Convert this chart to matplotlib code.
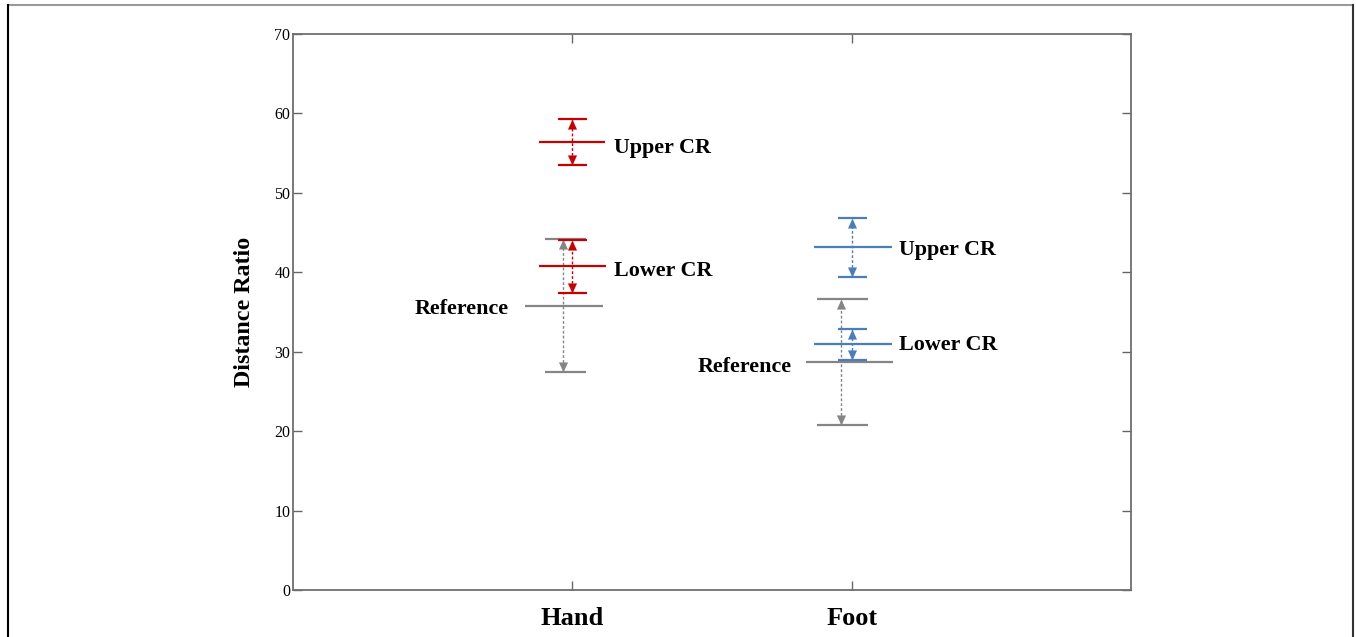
import matplotlib
matplotlib.use("Agg")
import matplotlib.pyplot as plt
from matplotlib.path import Path
from matplotlib.lines import Line2D

# ---------------- data ----------------
groups = ["Hand", "Foot"]
series = ["Reference", "Lower CR", "Upper CR"]
# centre value, lower bound, upper bound per group
ref_center = [35.8, 28.7]
ref_low = [27.4, 20.8]
ref_high = [44.2, 36.6]
lower_center = [40.8, 31.0]
lower_low = [37.4, 29.0]
lower_high = [44.1, 32.9]
upper_center = [56.4, 43.2]
upper_low = [53.5, 39.4]
upper_high = [59.3, 46.8]
yticks = [0, 10, 20, 30, 40, 50, 60, 70]

# ---------------- styles / layout ----------------
RED = "#C80000"
BLUE = "#4A7EBB"
GRAY = "#858585"
serif = ["Liberation Serif", "DejaVu Serif"]

layout = {
    "Hand": {
        "Reference": dict(line_dx=-0.030, line_hw=0.141, cap_dx=-0.024, cap_hw=0.073, arr_dx=-0.035,
                          label_side="left", label_off=(-16, -8)),
        "Lower CR": dict(line_dx=0.0, line_hw=0.120, cap_dx=0.0, cap_hw=0.052, arr_dx=0.0,
                         label_side="right", label_off=(8, -10)),
        "Upper CR": dict(line_dx=0.0, line_hw=0.118, cap_dx=0.0, cap_hw=0.052, arr_dx=0.0,
                         label_side="right", label_off=(9, -11)),
    },
    "Foot": {
        "Reference": dict(line_dx=-0.008, line_hw=0.156, cap_dx=-0.033, cap_hw=0.091, arr_dx=-0.040,
                          label_side="left", label_off=(-14, -10)),
        "Lower CR": dict(line_dx=0.005, line_hw=0.140, cap_dx=0.003, cap_hw=0.052, arr_dx=0.0,
                         label_side="right", label_off=(7, -6)),
        "Upper CR": dict(line_dx=0.005, line_hw=0.140, cap_dx=0.003, cap_hw=0.052, arr_dx=0.0,
                         label_side="right", label_off=(7, -8)),
    },
}
colors = {
    ("Hand", "Reference"): GRAY, ("Hand", "Lower CR"): RED, ("Hand", "Upper CR"): RED,
    ("Foot", "Reference"): GRAY, ("Foot", "Lower CR"): BLUE, ("Foot", "Upper CR"): BLUE,
}
values = {
    "Reference": (ref_center, ref_low, ref_high),
    "Lower CR": (lower_center, lower_low, lower_high),
    "Upper CR": (upper_center, upper_low, upper_high),
}

# arrow-head markers with the tip at the origin
up_head = Path([(0, 0), (-0.45, -1), (0.45, -1), (0, 0)], closed=True)
down_head = Path([(0, 0), (-0.45, 1), (0.45, 1), (0, 0)], closed=True)

fig = plt.figure(figsize=(13.56, 6.37), dpi=100)
ax = fig.add_axes([0.2161, 0.0738, 0.618, 0.8728])

xpos = {g: i + 1 for i, g in enumerate(groups)}
for g_i, g in enumerate(groups):
    x0 = xpos[g]
    for s in series:
        c, lo, hi = (v[g_i] for v in values[s])
        L = layout[g][s]
        col = colors[(g, s)]
        for yv in (lo, hi):
            ax.plot([x0 + L["cap_dx"] - L["cap_hw"], x0 + L["cap_dx"] + L["cap_hw"]], [yv, yv],
                    color=col, lw=1.6, solid_capstyle="butt", zorder=3)
        xa = x0 + L["arr_dx"]
        ax.plot([xa, xa], [lo, hi], color=col, lw=1.0, ls=(0, (2.0, 1.5)), zorder=2)
        ax.plot([xa], [hi], marker=up_head, ms=14.5, color=col, mec=col, mew=0, ls="none", zorder=3)
        ax.plot([xa], [lo], marker=down_head, ms=14.5, color=col, mec=col, mew=0, ls="none", zorder=3)
        xl = x0 + L["line_dx"] - L["line_hw"]
        xr = x0 + L["line_dx"] + L["line_hw"]
        ax.plot([xl, xr], [c, c], color=col, lw=1.6, solid_capstyle="butt", zorder=3)
        if L["label_side"] == "right":
            ax.annotate(s, xy=(xr, c), xytext=L["label_off"], textcoords="offset pixels",
                        ha="left", va="baseline", fontsize=15.8, fontweight="bold",
                        family=serif, color="black")
        else:
            ax.annotate(s, xy=(xl, c), xytext=L["label_off"], textcoords="offset pixels",
                        ha="right", va="baseline", fontsize=15.8, fontweight="bold",
                        family=serif, color="black")

ax.set_xlim(0, 3)
ax.set_ylim(0, 70)
ax.set_xticks([xpos[g] for g in groups])
ax.set_xticklabels(groups, fontsize=19, fontweight="bold", family=serif)
ax.set_yticks(yticks)
ax.set_yticklabels([str(t) for t in yticks], fontsize=11.5, family=serif)
ax.tick_params(axis="both", direction="in", length=6.5, width=1.0, color="#666666",
               top=True, right=True)
ax.tick_params(axis="x", pad=12)
ax.tick_params(axis="y", pad=2)
for sp in ax.spines.values():
    sp.set_color("#6e6e6e")
    sp.set_linewidth(1.3)
ax.set_ylabel("Distance Ratio", fontsize=17.3, fontweight="bold", family=serif, labelpad=14)

# outer frame of the figure
W, H = 1356, 637
fig.add_artist(Line2D([8 / W, 1353 / W], [1 - 5 / H, 1 - 5 / H], color="#9a9a9a", lw=1.5,
                      transform=fig.transFigure))
fig.add_artist(Line2D([8 / W, 8 / W], [0, 1 - 5 / H], color="black", lw=1.5,
                      transform=fig.transFigure))
fig.add_artist(Line2D([1353 / W, 1353 / W], [0, 1 - 5 / H], color="#333333", lw=1.5,
                      transform=fig.transFigure))

fig.savefig("out.png", dpi=100)
